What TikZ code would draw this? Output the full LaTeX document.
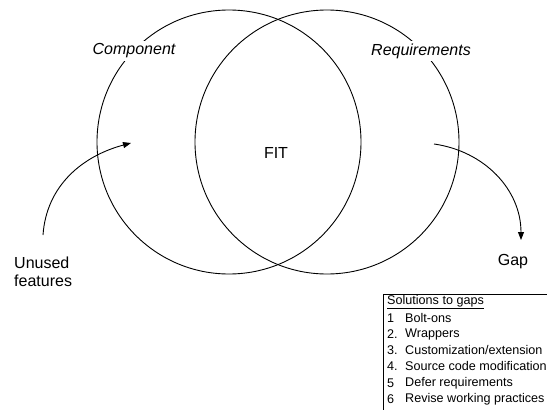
\documentclass[tikz,border=0pt]{standalone}
\usepackage{fontspec}
\setmainfont{Liberation Sans}
\usetikzlibrary{arrows.meta}
\begin{document}
\begin{tikzpicture}[x=1pt,y=-1pt,
  ring/.style={circle,draw,line width=0.9pt,minimum size=264pt,inner sep=0pt},
  biglabel/.style={font=\fontsize{16}{19}\selectfont,inner sep=0pt},
  setlabel/.style={font=\fontsize{16}{19}\selectfont\itshape,fill=white,inner xsep=1pt,inner ysep=3pt},
  leg/.style={font=\fontsize{12.6}{14}\selectfont,anchor=west,inner sep=0pt},
  conn/.style={line width=0.9pt,-{Triangle[length=8pt,width=6pt]}}]
\useasboundingbox (0,0) rectangle (547,410);
\node[ring] (comp) at (229,142) {};
\node[ring] (req) at (327,142) {};
\node[setlabel] (lcomp) at (134,51) {Component};
\node[setlabel] (lreq) at (421,51) {Requirements};
\node[biglabel] (fit) at (276,153) {FIT};
\node[biglabel,align=left,anchor=north west,font=\fontsize{16}{17.5}\selectfont] (unused) at (14,257) {Unused\\features};
\node[biglabel] (gap) at (513,262) {Gap};
\coordinate (ustart) at (43,235);
\coordinate (utip) at (131,143);
\coordinate (gstart) at (434,144);
\coordinate (gtip) at (521,240);
\draw[conn] (ustart) to[out=86,in=195] (utip);
\draw[conn] (gstart) to[out=-8,in=90] (gtip);
% legend frame
\coordinate (bl) at (383,410);
\coordinate (tl) at (383,294);
\coordinate (tr) at (547,294);
\draw[line width=1pt] (bl) -- (tl) -- (tr);
\node[leg] (ltitle) at (387,302) {\underline{Solutions to gaps}};
\foreach \n/\t/\y [count=\i] in {1/Bolt-ons/318, 2./Wrappers/334, 3./Customization\slash extension/350, 4./Source code modification/366, 5/Defer requirements/383, 6/Revise working practices/399}{
  \node[leg] (num\i) at (387,\y) {\n};
  \node[leg] (item\i) at (405,\y) {\t};
}
\end{tikzpicture}
\end{document}
